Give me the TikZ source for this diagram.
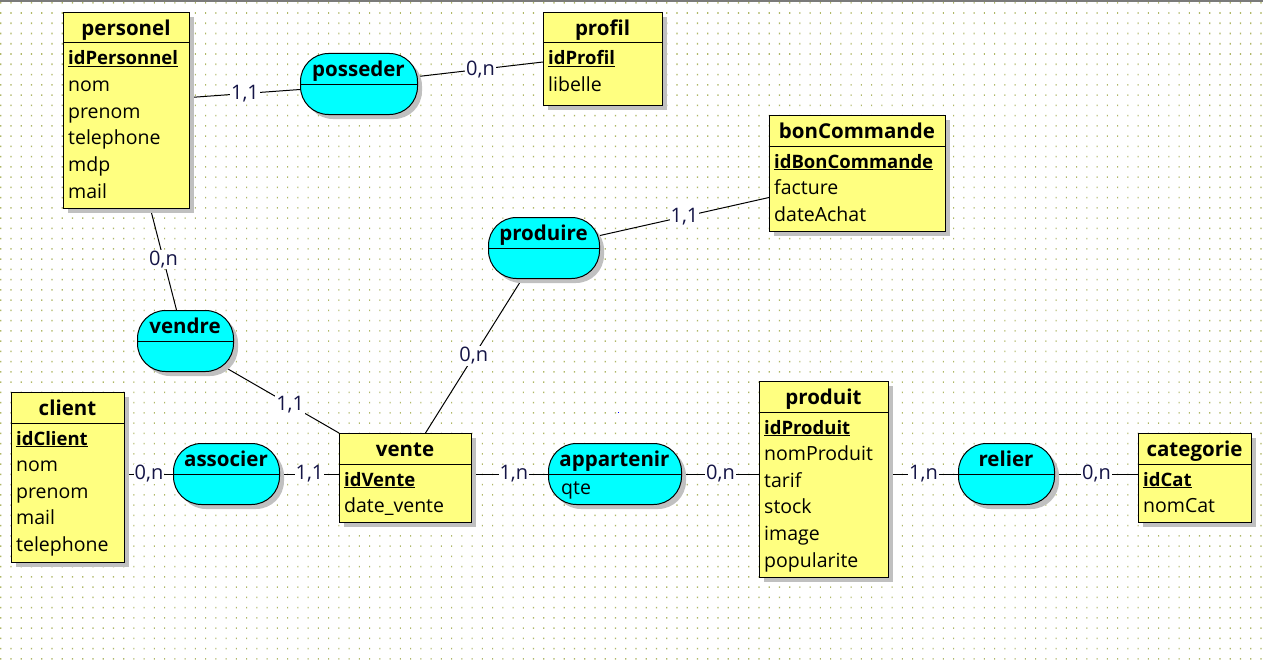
\documentclass[tikz,border=0pt]{standalone}
\usepackage{fontspec}
\setmainfont{Open Sans}
\usetikzlibrary{calc}
\definecolor{entfill}{RGB}{255,255,128}
\definecolor{relfill}{RGB}{0,255,255}
\definecolor{shadowc}{RGB}{192,192,192}
\definecolor{dotc}{RGB}{176,184,104}
\definecolor{cardc}{RGB}{20,20,70}
\definecolor{topc}{RGB}{122,122,122}
\pgfdeclarelayer{bg}
\pgfdeclarelayer{lines}
\pgfsetlayers{bg,lines,main}
\tikzset{
  entbox/.style={draw=black, fill=entfill, line width=1pt, inner sep=0pt, rectangle},
  relbox/.style={draw=black, fill=relfill, line width=1pt, inner sep=0pt, rectangle, rounded corners=28pt},
  titletext/.style={font=\fontsize{20.5}{22}\selectfont\bfseries, inner sep=0pt, anchor=base},
  attrtext/.style={font=\fontsize{19.5}{21}\selectfont, inner sep=0pt, anchor=base west},
  keytext/.style={font=\fontsize{18.5}{21}\selectfont\bfseries, inner sep=0pt, anchor=base west},
  link/.style={draw=black, line width=1pt},
  card/.style={font=\fontsize{20}{22}\selectfont, text=cardc, fill=white, inner sep=1pt},
}
% #1 name, #2 x, #3 y, #4 w, #5 h, #6 title, #7 key, #8 attributes
\newcommand\mcdentity[8]{%
  \fill[shadowc] (#2+5,#3+5) rectangle (#2+#4+5,#3+#5+5);
  \node[entbox, minimum width=#4pt, minimum height=#5pt, anchor=north west] (#1) at (#2,#3) {};
  \draw[line width=1pt] (#2,#3+31) -- (#2+#4,#3+31);
  \node[titletext] (#1-title) at (#2+#4/2,#3+23.5) {#6};
  \node[keytext] (#1-key) at (#2+5,#3+53) {\underline{#7}};
  \foreach \a [count=\i] in {#8} {\node[attrtext] (#1-a\i) at (#2+5,#3+53+26.6*\i) {\a};}
}
% #1 name, #2 x, #3 y, #4 w, #5 title
\newcommand\mcdrel[5]{%
  \fill[shadowc, rounded corners=28pt] (#2+5,#3+5) rectangle (#2+#4+5,#3+66);
  \node[relbox, minimum width=#4pt, minimum height=61pt, anchor=north west] (#1) at (#2,#3) {};
  \draw[line width=1pt] (#1.west) -- (#1.east);
  \node[titletext] (#1-title) at (#2+#4/2,#3+23) {#5};
}
\begin{document}
\begin{tikzpicture}[x=1pt, y=-1pt]
\useasboundingbox (0,0) rectangle (1263,661);
\begin{pgfonlayer}{bg}
  \fill[white] (0,0) rectangle (1263,661);
  \foreach \i in {0,...,123} {%
    \pgfmathsetmacro\dx{0.2+10.246*\i}
    \fill[dotc] \foreach \j in {0,...,64} {(\dx,2.0+10.25*\j) rectangle ++(1.1,1.7)};
  }
  \fill[topc] (0,0) rectangle (1263,1.6);
  \fill[blue] (617.5,411.5) rectangle ++(1.8,1.8);
\end{pgfonlayer}

% entities
\mcdentity{personel}{63}{12}{126}{196}{personel}{idPersonnel}{nom,prenom,telephone,mdp,mail}
\mcdentity{profil}{543}{12}{119}{93}{profil}{idProfil}{libelle}
\mcdentity{bonCommande}{769}{115}{176}{116}{bonCommande}{idBonCommande}{facture,dateAchat}
\mcdentity{client}{11}{392}{113}{170}{client}{idClient}{nom,prenom,mail,telephone}
\mcdentity{vente}{339}{433}{132}{89}{vente}{idVente}{date\_vente}
\mcdentity{produit}{759}{381}{129}{196}{produit}{idProduit}{nomProduit,tarif,stock,image,popularite}
\mcdentity{categorie}{1138}{433}{113}{89}{categorie}{idCat}{nomCat}

% associations
\mcdrel{posseder}{300}{53}{117}{posseder}
\mcdrel{produire}{488}{217}{111}{produire}
\mcdrel{vendre}{137}{310}{96}{vendre}
\mcdrel{associer}{173}{443}{106}{associer}
\mcdrel{appartenir}{548}{443}{133}{appartenir}
\node[attrtext] (appartenir-a1) at (561,494) {qte};
\mcdrel{relier}{958}{443}{96}{relier}

\begin{pgfonlayer}{lines}
  \draw[link] ($(personel.east)+(0,-13)$) -- node[card] (c1) {1,1} ($(posseder.west)+(0,5.5)$);
  \draw[link] ($(posseder.east)+(0,-7.5)$) -- node[card] (c2) {0,n} ($(profil.west)+(0,3)$);
  \draw[link] ($(personel.south)+(24,0)$) -- node[card] (c3) {0,n} ($(vendre.north)+(-9,0)$);
  \draw[link] ($(produire.east)+(0,-12.5)$) -- node[card] (c4) {1,1} ($(bonCommande.west)+(0,24)$);
  \draw[link] ($(produire.south)+(-22,0)$) -- node[card] (c5) {0,n} ($(vente.north)+(20,0)$);
  \draw[link] ($(vendre.south east)+(-6,-3)$) -- node[card, pos=0.56] (c6) {1,1} (vente.north west);
  \draw[link] (client.east |- associer.west) -- node[card] (c7) {0,n} (associer.west);
  \draw[link] (associer.east) -- node[card] (c8) {1,1} (vente.west |- associer.east);
  \draw[link] (vente.east |- appartenir.west) -- node[card, pos=0.55] (c9) {1,n} (appartenir.west);
  \draw[link] (appartenir.east) -- node[card] (c10) {0,n} (produit.west |- appartenir.east);
  \draw[link] (produit.east |- relier.west) -- node[card] (c11) {1,n} (relier.west);
  \draw[link] (relier.east) -- node[card] (c12) {0,n} (categorie.west |- relier.east);
\end{pgfonlayer}
\end{tikzpicture}
\end{document}
